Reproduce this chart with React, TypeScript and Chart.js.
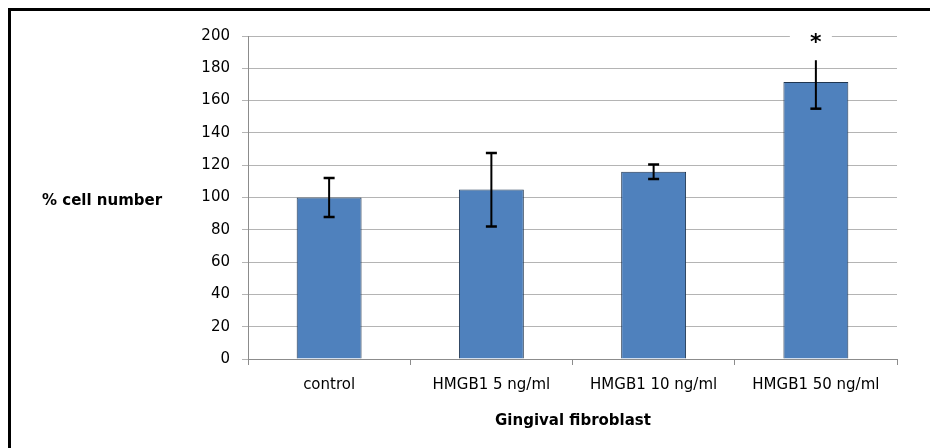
import React, { useEffect, useRef } from "react";
import { Chart, registerables } from "chart.js";

Chart.register(...registerables);

const categories = ["control", "HMGB1 5 ng/ml", "HMGB1 10 ng/ml", "HMGB1 50 ng/ml"];
const cellNumber = [100, 105, 116, 171.5];
const errorHigh = [112, 127.5, 120.5, 185];
const errorLow = [88, 82, 111.5, 155];
const significance = ["", "", "", "*"];
const yTicks = [0, 20, 40, 60, 80, 100, 120, 140, 160, 180, 200];

const FONT = "'DejaVu Sans', sans-serif";

const errorBarPlugin = {
  id: "errorBars",
  afterDatasetsDraw(chart: any) {
    const meta = chart.getDatasetMeta(0);
    const y = chart.scales.y;
    const ctx = chart.ctx;
    ctx.save();
    ctx.strokeStyle = "#000";
    meta.data.forEach((bar: any, i: number) => {
      const x = bar.x;
      const yHi = y.getPixelForValue(errorHigh[i]);
      const yLo = y.getPixelForValue(errorLow[i]);
      ctx.lineWidth = 2;
      ctx.beginPath();
      ctx.moveTo(x, yHi);
      ctx.lineTo(x, yLo);
      ctx.stroke();
      ctx.lineWidth = 2.5;
      ctx.beginPath();
      if (i !== meta.data.length - 1) {
        ctx.moveTo(x - 5.5, yHi);
        ctx.lineTo(x + 5.5, yHi);
      }
      ctx.moveTo(x - 5.5, yLo);
      ctx.lineTo(x + 5.5, yLo);
      ctx.stroke();
      if (significance[i]) {
        const ty = y.getPixelForValue(200);
        ctx.fillStyle = "#fff";
        ctx.fillRect(x - 26, ty - 3, 42, 6);
        ctx.fillStyle = "#000";
        ctx.font = `bold 22px ${FONT}`;
        ctx.textAlign = "center";
        ctx.textBaseline = "middle";
        ctx.fillText(significance[i], x, ty + 7);
      }
    });
    ctx.restore();
  },
  afterDraw(chart: any) {
    const ctx = chart.ctx;
    ctx.save();
    ctx.fillStyle = "#000";
    ctx.font = `bold 15px ${FONT}`;
    ctx.textBaseline = "middle";
    ctx.textAlign = "left";
    ctx.fillText("% cell number", 31, 190);
    ctx.textAlign = "center";
    ctx.fillText("Gingival fibroblast", 562, 410);
    ctx.restore();
  },
};

export default function App() {
  const ref = useRef<HTMLCanvasElement | null>(null);
  useEffect(() => {
    if (!ref.current) return;
    const chart = new Chart(ref.current, {
      type: "bar",
      data: {
        labels: categories,
        datasets: [
          {
            data: cellNumber,
            backgroundColor: "#4F81BD",
            borderColor: "#1F3550",
            borderWidth: 1,
            barPercentage: 0.8,
            categoryPercentage: 0.5,
          },
        ],
      },
      options: {
        responsive: false,
        animation: false,
        layout: { padding: { top: 25, right: 33, left: 0, bottom: 0 } },
        plugins: { legend: { display: false }, tooltip: { enabled: false } },
        scales: {
          x: {
            grid: { drawOnChartArea: false, drawTicks: true, tickLength: 6, color: "#8c8c8c", offset: true },
            border: { color: "#8c8c8c" },
            ticks: { color: "#000", font: { family: FONT, size: 15 }, padding: 11 },
            afterFit(s: any) {
              s.height = 89;
            },
          },
          y: {
            min: 0,
            max: 200,
            afterBuildTicks(s: any) {
              s.ticks = yTicks.map((v) => ({ value: v }));
            },
            grid: { color: "#b4b4b4", tickLength: 6, lineWidth: 1 },
            border: { color: "#8c8c8c" },
            ticks: { color: "#000", font: { family: FONT, size: 15 }, padding: 12 },
            afterFit(s: any) {
              s.width = 237;
            },
          },
        },
      },
      plugins: [errorBarPlugin],
    });
    return () => chart.destroy();
  }, []);
  return (
    <div
      style={{
        position: "fixed",
        top: 8,
        left: 8,
        width: 922,
        height: 440,
        overflow: "hidden",
        borderTop: "3px solid #000",
        borderLeft: "3px solid #000",
        boxSizing: "border-box",
        background: "#fff",
      }}
    >
      <canvas ref={ref} width={919} height={437} style={{ display: "block" }} />
    </div>
  );
}
